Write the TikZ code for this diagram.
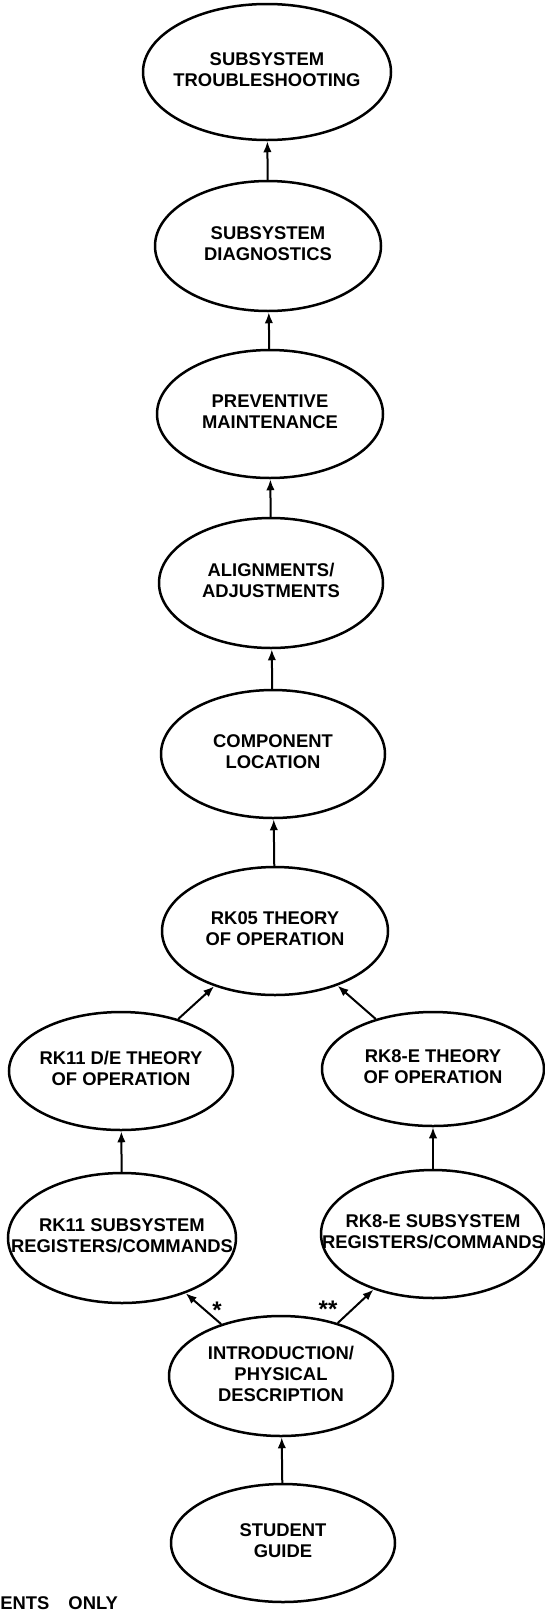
\documentclass[tikz,border=0pt]{standalone}
\usepackage{fontspec}
\setmainfont{Liberation Sans}
\usetikzlibrary{shapes.geometric,arrows.meta}
\newcommand{\lbl}[1]{\makebox[0pt]{\fontsize{9.2}{10.6}\selectfont\bfseries\begin{tabular}{@{}c@{}}#1\end{tabular}}}
\tikzset{
  ell/.style={ellipse, draw, line width=1.25pt, inner sep=0pt},
  arr/.style={line width=1pt, -{Latex[length=5.5pt,width=4.2pt]}},
  note/.style={font=\fontsize{9.2}{10.6}\selectfont\bfseries, inner sep=0pt},
  starnote/.style={font=\fontsize{12}{12}\selectfont\bfseries, inner sep=0pt}
}
\begin{document}
\begin{tikzpicture}[x=0.5pt,y=-0.5pt]
\useasboundingbox (0,0) rectangle (545,1612);
\node[ell, minimum width=124pt, minimum height=68pt] (trouble) at (267,72) {\lbl{SUBSYSTEM\\TROUBLESHOOTING}};
\node[ell, minimum width=113pt, minimum height=65pt] (diag) at (268,246) {\lbl{SUBSYSTEM\\DIAGNOSTICS}};
\node[ell, minimum width=113pt, minimum height=64pt] (prev) at (270,414) {\lbl{PREVENTIVE\\MAINTENANCE}};
\node[ell, minimum width=112pt, minimum height=65pt] (align) at (271,583) {\lbl{ALIGNMENTS/\\ADJUSTMENTS}};
\node[ell, minimum width=112pt, minimum height=64pt] (comp) at (273,754) {\lbl{COMPONENT\\LOCATION}};
\node[ell, minimum width=113pt, minimum height=64pt] (rk05) at (275,931) {\lbl{RK05 THEORY\\OF OPERATION}};
\node[ell, minimum width=112pt, minimum height=59pt] (rk11de) at (121,1071) {\lbl{RK11 D/E THEORY\\OF OPERATION}};
\node[ell, minimum width=111pt, minimum height=57pt] (rk8e) at (433,1069) {\lbl{RK8-E THEORY\\OF OPERATION}};
\node[ell, minimum width=114pt, minimum height=65pt] (rk11sub) at (122,1238) {\lbl{RK11 SUBSYSTEM\\REGISTERS/COMMANDS}};
\node[ell, minimum width=112pt, minimum height=64pt] (rk8sub) at (433,1234) {\lbl{RK8-E SUBSYSTEM\\REGISTERS/COMMANDS}};
\node[ell, minimum width=112pt, minimum height=60pt] (intro) at (281,1376) {\lbl{INTRODUCTION/\\PHYSICAL\\DESCRIPTION}};
\node[ell, minimum width=112pt, minimum height=59pt] (student) at (283,1543) {\lbl{STUDENT\\GUIDE}};
\draw[arr] (diag) -- (trouble);
\draw[arr] (prev) -- (diag);
\draw[arr] (align) -- (prev);
\draw[arr] (comp) -- (align);
\draw[arr] (rk05) -- (comp);
\draw[arr] (rk11de) -- (rk05);
\draw[arr] (rk8e) -- (rk05);
\draw[arr] (rk11sub) -- (rk11de);
\draw[arr] (rk8sub) -- (rk8e);
\draw[arr] (intro) -- (rk11sub);
\draw[arr] (intro) -- (rk8sub);
\draw[arr] (student) -- (intro);
\node[starnote] (star1) at (217,1310) {*};
\node[starnote] (star2) at (328,1309) {**};
\node[note, anchor=base west] (foot) at (0,1609) {ENTS\hspace{9.5pt}ONLY};
\end{tikzpicture}
\end{document}
